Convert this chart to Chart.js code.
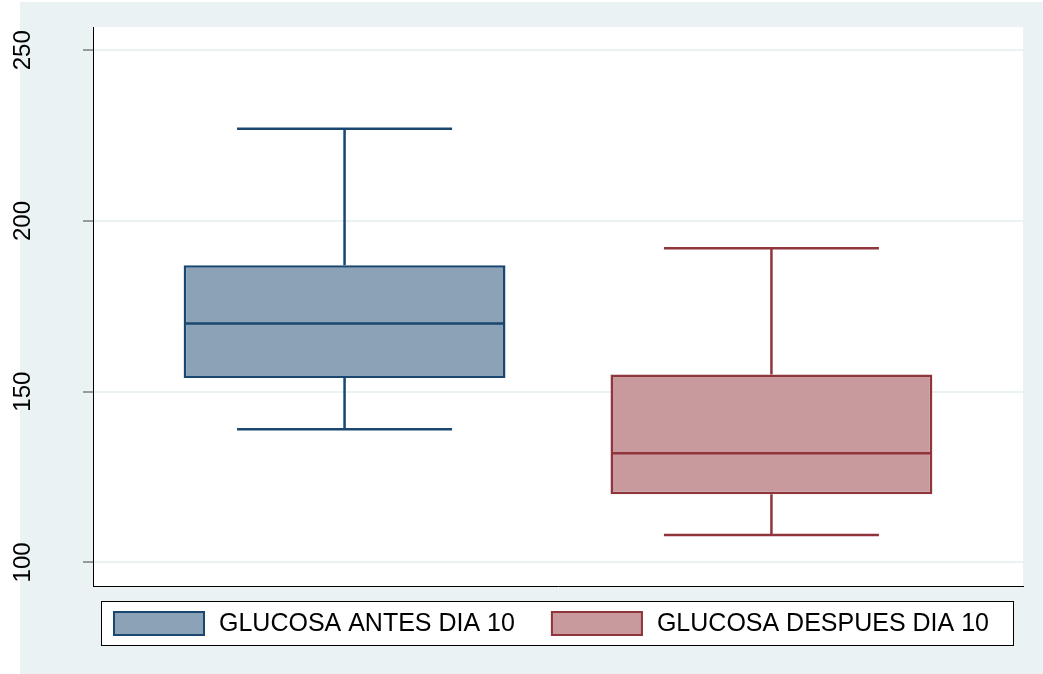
<!DOCTYPE html>
<html lang="es">

<head>
    <meta charset="UTF-8" />
    <title>Glucosa antes y despues dia 10</title>
    <script src="https://cdn.jsdelivr.net/npm/chart.js"></script>
    <style>
        body {
            margin: 0;
            background-color: #fff;
        }

        .wrap {
            width: 1043px;
            height: 674px;
        }
    </style>
</head>

<body>
    <div class="wrap">
        <canvas id="boxChart" width="1043" height="674"></canvas>
    </div>

    <script>
        // values
        const groups = ['GLUCOSA ANTES DIA 10', 'GLUCOSA DESPUES DIA 10'];
        const lowerWhisker = [139, 108];
        const q1 = [154, 120];
        const median = [170, 132];
        const q3 = [187, 155];
        const upperWhisker = [227, 192];
        const yTicks = [100, 150, 200, 250];

        const fills = ['#8ca3b7', '#c89a9d'];
        const lines = ['#1a476f', '#90353b'];
        const fontFamily = "'Liberation Sans', Arial, sans-serif";

        const datasets = groups.map((name, i) => ({
            label: name,
            data: [[q1[i], q3[i]]],
            backgroundColor: fills[i],
            borderColor: lines[i],
            borderWidth: 2.5,
            borderSkipped: false,
            categoryPercentage: 0.918,
            barPercentage: 0.754
        }));

        // grey graph region + white plot region
        const background = {
            id: 'background',
            beforeDraw(chart) {
                const { ctx, chartArea } = chart;
                ctx.save();
                ctx.fillStyle = '#fff';
                ctx.fillRect(0, 0, chart.width, chart.height);
                ctx.fillStyle = '#eaf2f3';
                ctx.fillRect(20, 2, chart.width - 20, chart.height - 2);
                ctx.fillStyle = '#fff';
                ctx.fillRect(chartArea.left, chartArea.top, chartArea.right - chartArea.left, chartArea.bottom - chartArea.top);
                ctx.restore();
            }
        };

        // median line and whiskers on top of the floating bars
        const whiskers = {
            id: 'whiskers',
            afterDatasetsDraw(chart) {
                const { ctx } = chart;
                const y = chart.scales.y;
                chart.data.datasets.forEach((ds, i) => {
                    const bar = chart.getDatasetMeta(i).data[0];
                    const half = bar.width / 2;
                    const cap = bar.width * 0.668 / 2;
                    ctx.save();
                    ctx.strokeStyle = lines[i];
                    ctx.lineWidth = 2.5;
                    ctx.beginPath();
                    ctx.moveTo(bar.x - half + 1, y.getPixelForValue(median[i]));
                    ctx.lineTo(bar.x + half - 1, y.getPixelForValue(median[i]));
                    ctx.moveTo(bar.x, y.getPixelForValue(q3[i]));
                    ctx.lineTo(bar.x, y.getPixelForValue(upperWhisker[i]));
                    ctx.moveTo(bar.x - cap, y.getPixelForValue(upperWhisker[i]));
                    ctx.lineTo(bar.x + cap, y.getPixelForValue(upperWhisker[i]));
                    ctx.moveTo(bar.x, y.getPixelForValue(q1[i]));
                    ctx.lineTo(bar.x, y.getPixelForValue(lowerWhisker[i]));
                    ctx.moveTo(bar.x - cap, y.getPixelForValue(lowerWhisker[i]));
                    ctx.lineTo(bar.x + cap, y.getPixelForValue(lowerWhisker[i]));
                    ctx.stroke();
                    ctx.restore();
                });
            }
        };

        // framed legend below the plot, stata style
        const boxLegend = {
            id: 'boxLegend',
            afterDraw(chart) {
                const { ctx } = chart;
                ctx.save();
                ctx.fillStyle = '#fff';
                ctx.fillRect(102, 601, 912, 44);
                ctx.strokeStyle = '#000';
                ctx.lineWidth = 1;
                ctx.strokeRect(101.5, 601.5, 912, 44);
                ctx.font = '25px ' + fontFamily;
                ctx.textBaseline = 'middle';
                let x = 113;
                chart.data.datasets.forEach((ds) => {
                    ctx.fillStyle = ds.backgroundColor;
                    ctx.fillRect(x, 611, 92, 25);
                    ctx.strokeStyle = ds.borderColor;
                    ctx.lineWidth = 2;
                    ctx.strokeRect(x + 1, 612, 90, 23);
                    ctx.fillStyle = '#000';
                    ctx.fillText(ds.label, x + 106, 624);
                    x += 106 + ctx.measureText(ds.label).width + 36;
                });
                ctx.restore();
            }
        };

        const ctx = document.getElementById('boxChart').getContext('2d');
        new Chart(ctx, {
            type: 'bar',
            data: {
                labels: [''],
                datasets
            },
            plugins: [background, whiskers, boxLegend],
            options: {
                responsive: false,
                animation: false,
                layout: {
                    padding: { left: 0, top: 27, right: 20, bottom: 88 }
                },
                plugins: {
                    legend: { display: false },
                    tooltip: { enabled: false }
                },
                scales: {
                    x: {
                        ticks: { display: false },
                        grid: { display: false, drawTicks: false },
                        border: { display: true, color: '#000', width: 1 },
                        afterFit: s => { s.height = 0; }
                    },
                    y: {
                        min: 93.1,
                        max: 256.8,
                        afterBuildTicks: s => { s.ticks = yTicks.map(v => ({ value: v })); },
                        afterFit: s => {
                            s.width = 93;
                            s.paddingTop = 0;
                            s.paddingBottom = 0;
                        },
                        ticks: {
                            minRotation: 90,
                            maxRotation: 90,
                            crossAlign: 'center',
                            padding: 40,
                            color: '#000',
                            font: { family: fontFamily, size: 24 }
                        },
                        grid: {
                            color: '#eaf2f3',
                            lineWidth: 2,
                            tickLength: 10,
                            tickColor: '#444',
                            tickWidth: 1
                        },
                        border: { display: true, color: '#000', width: 1 }
                    }
                }
            }
        });
    </script>
</body>

</html>
